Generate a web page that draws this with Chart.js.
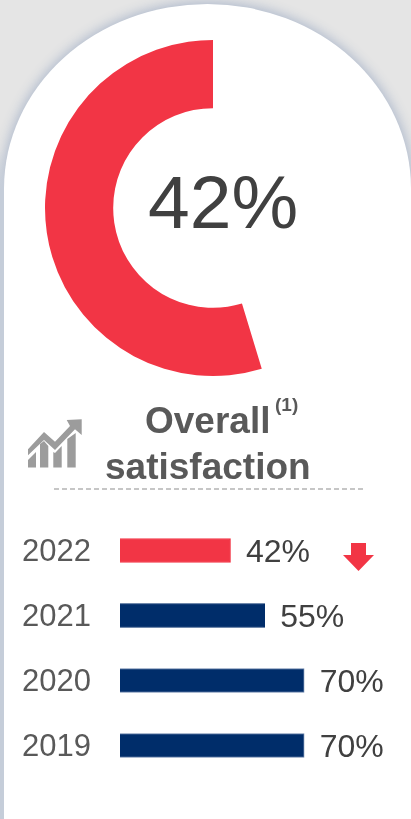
<!DOCTYPE html>
<html>
<head>
<meta charset="utf-8">
<script src="https://cdn.jsdelivr.net/npm/chart.js@4"></script>
<style>
html, body { margin: 0; padding: 0; }
body { width: 411px; height: 819px; background: #e5e5e5; overflow: hidden; position: relative; font-family: "Liberation Sans", Arial, sans-serif; }
#card {
    position: absolute; left: 4px; top: 4px; width: 407px; height: 830px;
    background: #fff;
    border-radius: 204px 204px 0 0 / 185px 185px 0 0;
    box-shadow: 0 0 12px 2px #aeb9cc;
}
#strip { position: absolute; left: 0; top: 150px; width: 4px; height: 669px; background: linear-gradient(rgba(197,205,217,0) 0, #c5cdd9 40px); }
#ring { position: absolute; left: 43px; top: 38px; }
#bars { position: absolute; left: 0; top: 518px; }
.txt { position: absolute; white-space: nowrap; }
#center { left: 148px; top: 160px; font-size: 75px; line-height: 84px; color: #404040; }
#title1 { left: 145px; top: 400px; font-size: 37px; line-height: 42px; font-weight: bold; color: #595959; }
#title2 { left: 105px; top: 446px; font-size: 37px; line-height: 42px; font-weight: bold; color: #595959; }
#note { left: 275px; top: 394px; font-size: 19px; line-height: 22px; font-weight: bold; color: #595959; }
#rule { position: absolute; left: 54px; top: 488px; width: 311px; height: 2px; background: repeating-linear-gradient(90deg, #c6c6c6 0 5px, transparent 5px 8px); }
svg { position: absolute; left: 0; top: 0; }
</style>
</head>
<body>
<div id="card"></div>
<div id="strip"></div>
<canvas id="ring" width="340" height="340"></canvas>

<svg width="411" height="819">
    <!-- trend icon -->
    <g fill="#9c9c9c">
        <polygon points="28,460 36,452 36,467.5 28,467.5"/>
        <polygon points="40,444 44,441 48.3,446 48.3,467.5 40,467.5"/>
        <polygon points="53.3,452 55,453 61.7,446 61.7,467.5 53.3,467.5"/>
        <polygon points="67.3,439 75.7,433 75.7,467.5 67.3,467.5"/>
        <polygon points="28,449.3 44,432 55,441.7 70,426 66.7,420 81.7,419.3 81.7,435 75,429.3 55,450 44,440 28,455.3"/>
    </g>
    <!-- down arrow next to the latest year -->
    <polygon fill="#f23545" points="351,543 366,543 366,555 374,555 358.5,571 343,555 351,555"/>
</svg>

<div class="txt" id="center">42%</div>
<div class="txt" id="title1">Overall</div>
<div class="txt" id="note">(1)</div>
<div class="txt" id="title2">satisfaction</div>
<div id="rule"></div>

<canvas id="bars" width="411" height="260"></canvas>

<script>
const years = ['2022', '2021', '2020', '2019'];
const scores = [42, 55, 70, 70];
const barColors = ['#f23545', '#002d6a', '#002d6a', '#002d6a'];
const barEdges = ['#f23545', '#002d6a', '#6d86ad', '#6d86ad'];

// ring: the score and the empty part of the gauge
const ringScore = 42;
const ringEmpty = 34.8;

new Chart(document.querySelector('#ring').getContext('2d'), {
    type: 'doughnut',
    data: {
        labels: ['', 'Overall satisfaction'],
        datasets: [{
            data: [ringEmpty, ringScore],
            backgroundColor: ['rgba(0,0,0,0)', '#f23545'],
            borderWidth: 0,
            radius: 168,
            cutout: 101,
        }]
    },
    options: {
        responsive: false,
        animation: false,
        plugins: {
            legend: { display: false },
            tooltip: { enabled: false },
        }
    }
});

// percent labels after each bar
const valueLabels = {
    id: 'valueLabels',
    afterDatasetsDraw(chart) {
        const c = chart.ctx;
        c.save();
        c.font = '32px "Liberation Sans", Arial, sans-serif';
        c.fillStyle = '#404040';
        c.textBaseline = 'middle';
        chart.getDatasetMeta(0).data.forEach((bar, i) => {
            c.fillText(scores[i] + '%', bar.x + 15.5, bar.y + 3);
        });
        c.restore();
    }
};

new Chart(document.querySelector('#bars').getContext('2d'), {
    type: 'bar',
    data: {
        labels: years,
        datasets: [{
            data: scores,
            backgroundColor: barColors,
            borderColor: barEdges,
            borderWidth: 1,
            barThickness: 24,
        }]
    },
    plugins: [valueLabels],
    options: {
        indexAxis: 'y',
        responsive: false,
        animation: false,
        layout: { padding: 0 },
        scales: {
            x: {
                display: false,
                min: 0,
                max: 110.6,
            },
            y: {
                grid: { display: false, drawTicks: false },
                border: { display: false },
                // fixed gutter for the year labels, no extra room above and below
                afterFit: (axis) => {
                    axis.width = 120;
                    axis.paddingTop = 0;
                    axis.paddingBottom = 0;
                },
                ticks: {
                    padding: 29,
                    labelOffset: 2,
                    color: '#595959',
                    font: { size: 31, family: '"Liberation Sans", Arial, sans-serif' },
                }
            }
        },
        plugins: {
            legend: { display: false },
            tooltip: { enabled: false },
        }
    }
});
</script>
</body>
</html>
